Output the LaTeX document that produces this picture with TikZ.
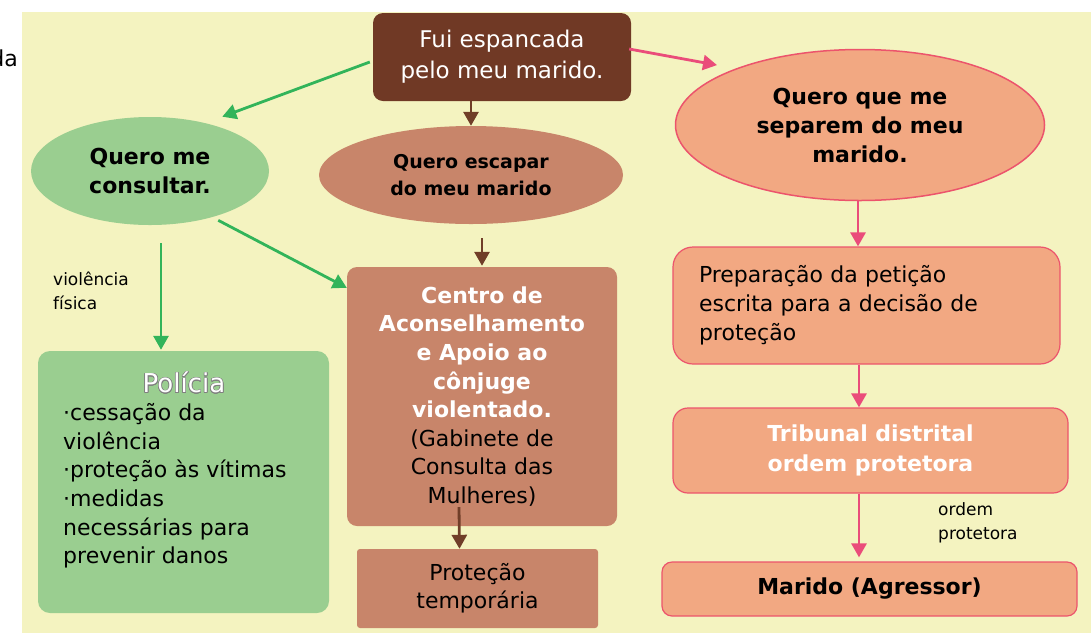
\documentclass[tikz,border=0pt]{standalone}
\usepackage{fontspec}
\setmainfont{DejaVu Sans}
\usepackage[copies]{contour}
\usetikzlibrary{shapes.geometric,arrows.meta,calc}
\definecolor{bgyellow}{RGB}{244,243,192}
\definecolor{darkbrown}{RGB}{112,57,37}
\definecolor{brownbox}{RGB}{200,133,106}
\definecolor{lgreen}{RGB}{154,206,144}
\definecolor{salmon}{RGB}{242,168,130}
\definecolor{pinkline}{RGB}{236,84,108}
\definecolor{arrgreen}{RGB}{50,180,90}
\definecolor{arrpink}{RGB}{234,76,122}
\definecolor{arrbrown}{RGB}{112,62,40}
\newcommand{\wbf}[1]{\textcolor{white}{\bfseries #1}}
\contourlength{0.6pt}
\begin{document}
\begin{tikzpicture}[x=1pt,y=-1pt,
    every node/.style={inner sep=0pt},
    big/.style={font=\fontsize{22}{29}\selectfont},
    bigbf/.style={font=\bfseries\fontsize{22}{29}\selectfont},
    small/.style={font=\fontsize{17}{24}\selectfont},
    salbox/.style={rectangle, fill=salmon, draw=pinkline, line width=1.2pt},
    grnarrow/.style={draw=arrgreen, line width=2.8pt, -{Triangle[length=14pt,width=15pt]}},
    pnkarrow/.style={draw=arrpink, line width=2.8pt, -{Triangle[length=14pt,width=15pt]}},
    brnarrow/.style={draw=arrbrown, line width=2.8pt, -{Triangle[length=14pt,width=15pt]}}]
    \useasboundingbox (0,0) rectangle (1091,633);
    \fill [bgyellow] (22,12) rectangle (1091,633);
    \node [anchor=east, font=\fontsize{22}{26}\selectfont] (da) at (18,58) {da};
    \node [rectangle, rounded corners=10pt, fill=darkbrown, text=white, minimum width=258pt, minimum height=88pt, align=center, font=\fontsize{23}{31}\selectfont] (fui) at (502,57) {Fui espancada\\pelo meu marido.};
    \node [ellipse, fill=lgreen, minimum width=238pt, minimum height=108pt, align=center, bigbf] (consult) at (150,171) {Quero me\\consultar.};
    \node [ellipse, fill=brownbox, minimum width=304pt, minimum height=98pt, align=center, font=\bfseries\fontsize{19}{27}\selectfont] (escapar) at (471,175) {Quero escapar\\do meu marido};
    \node [ellipse, fill=salmon, draw=pinkline, line width=1.5pt, minimum width=369pt, minimum height=151pt, align=center, bigbf] (sep) at (860,125) {Quero que me\\separem do meu\\marido.};
    \node [rectangle, rounded corners=12pt, fill=lgreen, minimum width=291pt, minimum height=262pt] (pol) at (183.5,482) {};
    \node [text=white, font=\fontsize{26}{30}\selectfont] (poltit) at (184,383) {\contour{gray}{Polícia}};
    \node [anchor=north west, align=left, font=\fontsize{22}{28.7}\selectfont] (poltxt) at (63,403) {·cessação da\\violência\\·proteção às vítimas\\·medidas\\necessárias para\\prevenir danos};
    \node [rectangle, rounded corners=10pt, fill=brownbox, minimum width=270pt, minimum height=259pt, align=center, font=\fontsize{22}{28.6}\selectfont] (centro) at (482,396.5) {\wbf{Centro de}\\\wbf{Aconselhamento}\\\wbf{e Apoio ao}\\\wbf{cônjuge}\\\wbf{violentado.}\\(Gabinete de\\Consulta das\\Mulheres)};
    \node [rectangle, rounded corners=3pt, fill=brownbox, minimum width=241pt, minimum height=79pt, align=center, font=\fontsize{22}{28}\selectfont] (prot) at (477.5,588.5) {Proteção\\temporária};
    \node [salbox, rounded corners=20pt, minimum width=387pt, minimum height=117pt, text width=335pt, align=left, big] (prep) at (866.5,305.5) {Preparação da petição\\escrita para a decisão de\\proteção};
    \node [salbox, rounded corners=15pt, minimum width=395pt, minimum height=85pt, align=center, text=white, font=\bfseries\fontsize{22}{30}\selectfont] (trib) at (870.5,450.5) {Tribunal distrital\\ordem protetora};
    \node [salbox, rounded corners=10pt, minimum width=415pt, minimum height=54pt, bigbf] (marido) at (869.5,589) {Marido (Agressor)};
    \node [anchor=west, align=left, small] (vfis) at (53,291) {violência\\física};
    \node [anchor=west, align=left, small] (ordlbl) at (938,522.5) {ordem\\protetora};
    \draw [grnarrow] ($(fui.west)+(-3,5)$) -- ($(consult.north east)+(-12,-16)$);
    \draw [grnarrow] ($(consult.south east)+(-16,11)$) -- ($(centro.north west)+(0,21)$);
    \draw [grnarrow] ($(consult.south)+(11,18)$) -- ($(pol.north)+(-22.5,-1)$);
    \draw [brnarrow] (escapar.north |- fui.south) -- (escapar.north);
    \draw [brnarrow] ($(escapar.south)+(11,14)$) -- ($(centro.north)+(0,-1)$);
    \draw [brnarrow] ($(centro.south)+(-23,-19)$) -- ($(prot.north)+(-18,0)$);
    \draw [pnkarrow] ($(fui.east)+(-2,-8)$) -- ($(sep.north west)+(-12,-6)$);
    \draw [pnkarrow] ($(sep.south)+(-2,0)$) -- ($(prep.north)+(-8.5,0)$);
    \draw [pnkarrow] ($(prep.south)+(-7.5,0)$) -- ($(trib.north)+(-11.5,0)$);
    \draw [pnkarrow] ($(trib.south)+(-11.5,0)$) -- ($(marido.north)+(-10.5,-4)$);
\end{tikzpicture}
\end{document}
